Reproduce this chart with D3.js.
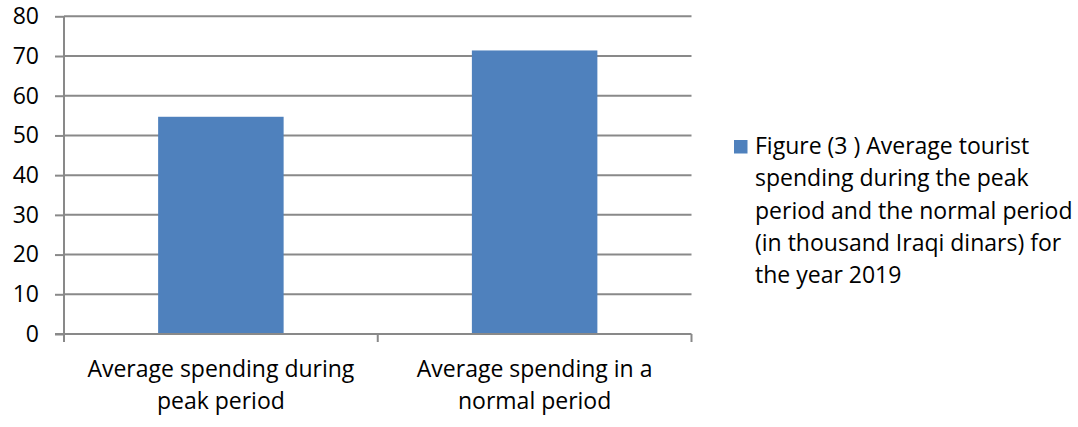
<!DOCTYPE html>
<html>
<head>
<meta charset="utf-8">
<script src="https://cdn.jsdelivr.net/npm/d3@7"></script>
<style>
  html, body { margin: 0; padding: 0; background: #fff; }
  svg text { font-family: "Open Sans", sans-serif; fill: #000; }
</style>
</head>
<body>
<svg id="chart" width="1078" height="427"></svg>
<script>
// Category labels (each entry is a list of wrapped lines)
const categories = ["peak", "normal"];
const categoryLines = [
  ["Average spending during", "peak period"],
  ["Average spending in a", "normal period"]
];
// Average spending, thousand Iraqi dinars
const values = [54.7, 71.4];
const yTicks = [0, 10, 20, 30, 40, 50, 60, 70, 80];
const legendLines = [
  "Figure (3 ) Average tourist",
  "spending during the peak",
  "period and the normal period",
  "(in thousand Iraqi dinars) for",
  "the year 2019"
];

const svg = d3.select("#chart");
const plot = { left: 64, right: 691.5, top: 16.3, bottom: 334 };
const gridColor = "#898989";
const barColor = "#4F81BD";
const fontSize = 23;

const x = d3.scaleBand().domain(categories).range([plot.left, plot.right]).padding(0);
const y = d3.scaleLinear().domain([0, 80]).range([plot.bottom, plot.top]);

// Horizontal gridlines
svg.append("g")
  .selectAll("line")
  .data(yTicks.filter(d => d > 0))
  .join("line")
  .attr("x1", plot.left).attr("x2", plot.right)
  .attr("y1", d => y(d)).attr("y2", d => y(d))
  .attr("stroke", gridColor).attr("stroke-width", 2);

// Bars
svg.append("g")
  .selectAll("rect")
  .data(values)
  .join("rect")
  .attr("x", (d, i) => x(categories[i]) + x.bandwidth() * 0.3)
  .attr("width", x.bandwidth() * 0.4)
  .attr("y", d => y(d))
  .attr("height", d => y(0) - y(d))
  .attr("fill", barColor);

// Y axis
const yAxis = svg.append("g")
  .attr("transform", `translate(${plot.left},0)`)
  .call(d3.axisLeft(y).tickValues(yTicks).tickSize(9).tickPadding(16).tickFormat(d3.format("d")));
yAxis.select(".domain").attr("stroke", gridColor).attr("stroke-width", 2).attr("d", `M0,${plot.top}V${plot.bottom}`);
yAxis.selectAll(".tick line").attr("stroke", gridColor).attr("stroke-width", 2);
yAxis.selectAll(".tick text").attr("font-size", fontSize).attr("fill", "#000")
  .style("font-family", "'Open Sans', sans-serif");

// X axis with tick marks at band boundaries
const xb = svg.append("g").attr("transform", `translate(0,${plot.bottom})`);
xb.append("line")
  .attr("x1", plot.left - 9).attr("x2", plot.right)
  .attr("stroke", gridColor).attr("stroke-width", 2);
const boundaries = categories.map(c => x(c)).concat([x(categories[categories.length - 1]) + x.bandwidth()]);
xb.selectAll("line.tk")
  .data(boundaries)
  .join("line").attr("class", "tk")
  .attr("x1", d => d).attr("x2", d => d)
  .attr("y1", 0).attr("y2", 8)
  .attr("stroke", gridColor).attr("stroke-width", 2);

// Category labels
const labels = svg.append("g")
  .selectAll("text")
  .data(categories)
  .join("text")
  .attr("text-anchor", "middle")
  .attr("font-size", fontSize)
  .attr("x", c => x(c) + x.bandwidth() / 2)
  .attr("y", 377);
labels.each(function(c, i) {
  d3.select(this).selectAll("tspan")
    .data(categoryLines[i])
    .join("tspan")
    .attr("x", x(c) + x.bandwidth() / 2)
    .attr("dy", (d, j) => j === 0 ? 0 : 32.3)
    .text(d => d);
});

// Legend
const legend = svg.append("g");
legend.append("rect")
  .attr("x", 734).attr("y", 140).attr("width", 13.5).attr("height", 13.5)
  .attr("fill", barColor);
legend.append("text")
  .attr("font-size", fontSize)
  .attr("x", 755).attr("y", 154)
  .selectAll("tspan")
  .data(legendLines)
  .join("tspan")
  .attr("x", 755)
  .attr("dy", (d, j) => j === 0 ? 0 : 32.3)
  .text(d => d);
</script>
</body>
</html>
